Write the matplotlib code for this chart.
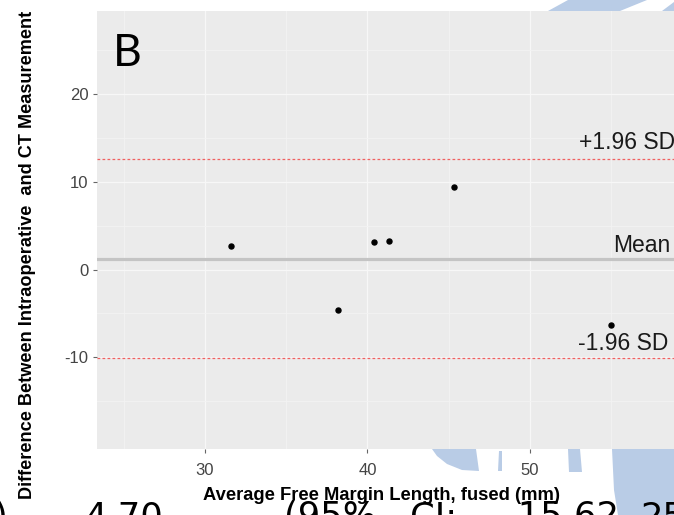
import matplotlib
matplotlib.use("Agg")
import matplotlib.pyplot as plt
from matplotlib.patches import Polygon

plt.rcParams["axes.unicode_minus"] = False

# ---------------- data ----------------
avg_margin = [31.6, 38.2, 40.4, 41.3, 45.3, 55.0]      # x: average free margin length (mm)
difference = [2.7, -4.6, 3.1, 3.3, 9.4, -6.3]          # y: intraop - CT difference
mean_diff = 1.2
upper_loa = 12.6
lower_loa = -10.1
x_ticks = [30, 40, 50]
y_ticks = [-10, 0, 10, 20]
x_minor = [25, 35, 45, 55, 60]
y_minor = [-15, -5, 5, 15, 25]
loa_labels = ["+1.96 SD", "Mean", "-1.96 SD"]
panel_letter = "B"
x_title = "Average Free Margin Length, fused (mm)"
y_title = "Difference Between Intraoperative  and CT Measurement"
bottom_fragments = [")", "4.70", "(95%", "CI:", "-15.62,", "25"]
bottom_frag_px = [-7, 84, 284, 410, 505, 640]

W, H = 674, 515
fig = plt.figure(figsize=(W / 100, H / 100), dpi=100)
fig.patch.set_facecolor("white")

def fx(px):
    return px / W

def fy(py):
    return (H - py) / H

# background decorative shapes (behind the plot panel)
blue = "#b9cce6"
shapes = [
    [(548, 11), (568, 0), (647, 0), (620, 11)],
    [(662, 11), (674, 2), (674, 11)],
    [(432, 449), (476, 449), (479, 471), (462, 470), (447, 464), (437, 456)],
    [(499, 451), (502, 451), (502, 471), (498, 471)],
    [(568, 449), (580, 449), (582, 472), (569, 472)],
    [(612, 449), (674, 449), (674, 515), (618, 515), (614, 490)],
]
for s in shapes:
    fig.patches.append(Polygon([(fx(a), fy(b)) for a, b in s], closed=True,
                               transform=fig.transFigure, facecolor=blue,
                               edgecolor="none", zorder=0))

# axes panel (extends past the right edge, like the cropped reference)
left_px, right_px, top_px, bot_px = 96.7, 721, 11, 449
ax = fig.add_axes([fx(left_px), fy(bot_px), (right_px - left_px) / W, (bot_px - top_px) / H])
ax.set_facecolor("#ebebeb")
ax.set_xlim(23.34, 61.75)
ax.set_ylim(-20.44, 29.44)
for sp in ax.spines.values():
    sp.set_visible(False)

ax.set_xticks(x_ticks)
ax.set_yticks(y_ticks)
ax.set_xticks(x_minor, minor=True)
ax.set_yticks(y_minor, minor=True)
ax.grid(which="major", color="#f7f7f7", linewidth=0.9)
ax.grid(which="minor", color="#f3f3f3", linewidth=0.6)
ax.set_axisbelow(True)
ax.tick_params(which="major", length=3, width=0.8, color="#666666", labelsize=12,
               labelcolor="#444444", pad=3)
ax.tick_params(which="minor", length=0)
ax.tick_params(axis="x", pad=7)
for lab in ax.get_xticklabels() + ax.get_yticklabels():
    lab.set_family("Liberation Sans")

# lines of agreement
ax.axhline(mean_diff, color="#c4c4c4", linewidth=2.3, zorder=2)
ax.axhline(upper_loa, color="#f06060", linewidth=0.9, linestyle=(0, (2.2, 1.8)), zorder=2)
ax.axhline(lower_loa, color="#f06060", linewidth=0.9, linestyle=(0, (2.2, 1.8)), zorder=2)

ax.plot(avg_margin, difference, "o", color="black", markersize=3.6, zorder=3)

label_font = dict(family="Liberation Sans", fontsize=16.5, color="#1a1a1a", ha="left",
                  va="baseline", clip_on=False)
ax.text(53.02, upper_loa + 1.1, loa_labels[0], **label_font)
ax.text(55.13, mean_diff + 0.83, loa_labels[1], **label_font)
ax.text(52.97, lower_loa + 0.92, loa_labels[2], **label_font)

# panel letter
fig.text(fx(113), fy(66), panel_letter, family="Lato", fontsize=32, color="black",
         ha="left", va="baseline")

# y axis title
fig.text(fx(27.5), fy(255), y_title, rotation=90, family="Liberation Sans",
         fontweight="bold", fontsize=13.1, ha="center", va="center", color="black")

# big text of the underlying slide, cropped by the bottom edge
big = dict(family="DejaVu Sans", fontsize=25.5, color="black", va="baseline", ha="left",
           zorder=1)
for frag, px in zip(bottom_fragments, bottom_frag_px):
    fig.text(fx(px), fy(527), frag, **big)

# x axis title on top
fig.text(fx(381.5), fy(500), x_title, family="Liberation Sans", fontweight="bold",
         fontsize=13.2, ha="center", va="baseline", color="black", zorder=5)

fig.savefig("out.png", dpi=100, facecolor="white")
